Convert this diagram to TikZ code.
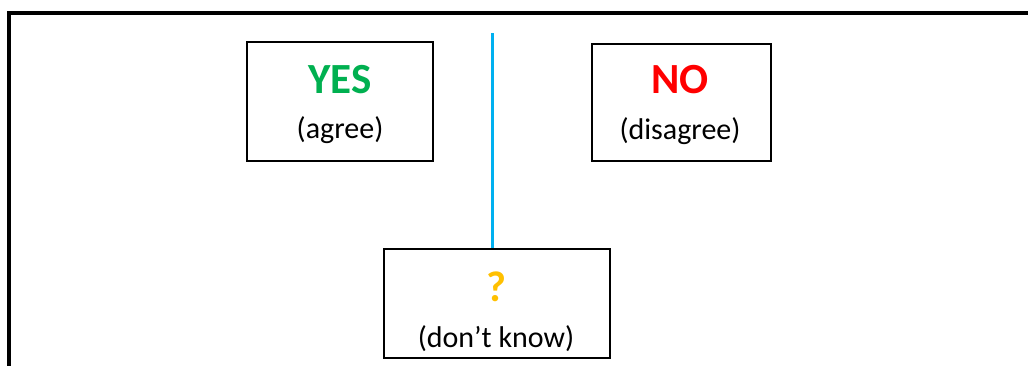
\documentclass[tikz,border=0pt]{standalone}
\usepackage{fontspec}
\setmainfont{Carlito}
\definecolor{yesgreen}{RGB}{0,176,80}
\definecolor{nored}{RGB}{255,0,0}
\definecolor{qorange}{RGB}{255,192,0}
\definecolor{lineblue}{RGB}{0,176,240}
\begin{document}
\begin{tikzpicture}[x=1pt,y=-1pt,
  box/.style={draw=black,line width=1.5pt,inner sep=0pt},
  big/.style={font=\fontsize{43}{47}\selectfont\bfseries,anchor=base,inner sep=0pt},
  small/.style={font=\fontsize{30}{33}\selectfont,anchor=base,inner sep=0pt}]
\useasboundingbox (0,0) rectangle (1028,365);
\fill[white] (0,0) rectangle (1028,365);
\draw[line width=4pt,line join=miter] (9,367) -- (9,13) -- (1030,13);
\node[box,minimum width=186pt,minimum height=119pt] (yes) at (340,101.5) {};
\node[box,minimum width=179pt,minimum height=117pt] (no) at (681.5,102.5) {};
\node[box,minimum width=226pt,minimum height=109pt] (dk) at (497,303.5) {};
\coordinate (top) at (492.5,33);
\draw[lineblue,line width=2.2pt] (top) -- (top |- dk.north);
\node[big,text=yesgreen] (yest) at (340,93) {YES};
\node[small] (yess) at (340,138) {(agree)};
\node[big,text=nored] (not) at (680,93) {NO};
\node[small] (nos) at (680,139) {(disagree)};
\node[big,text=qorange] (dkt) at (496,301) {?};
\node[small] (dks) at (496,347) {(don’t know)};
\end{tikzpicture}
\end{document}
